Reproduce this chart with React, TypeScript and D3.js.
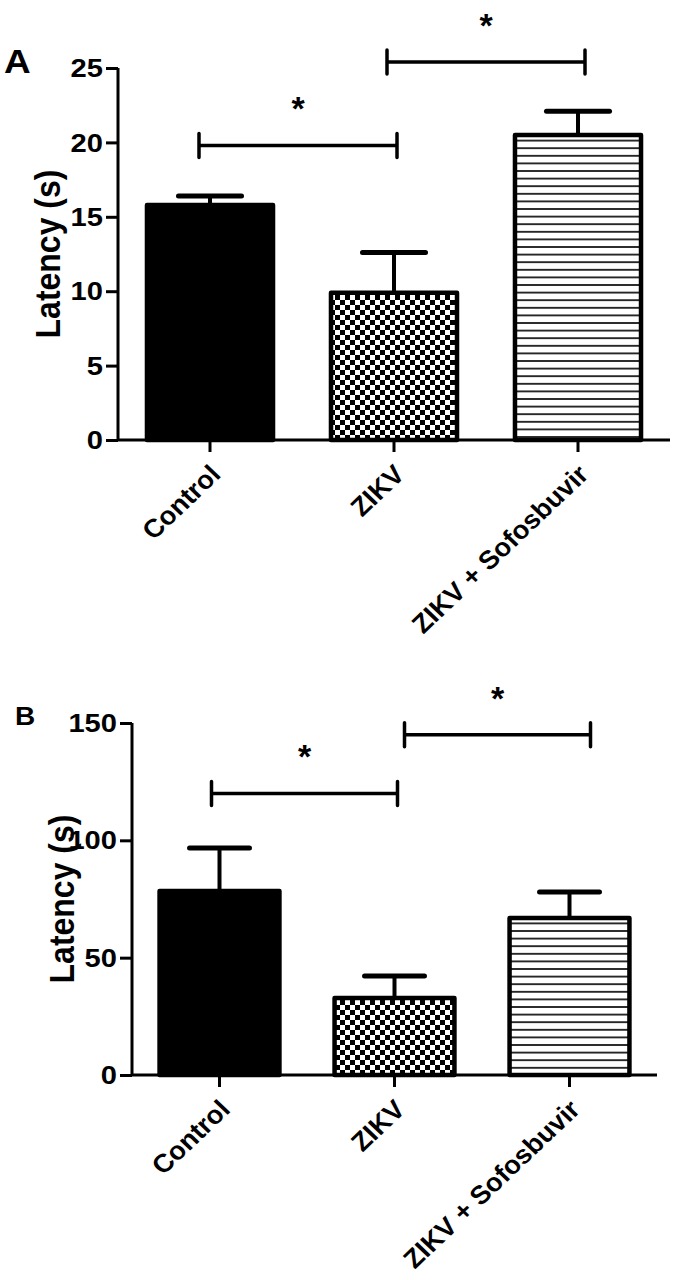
import { useEffect, useRef } from "react";
import * as d3 from "d3";

const categories = ["Control", "ZIKV", "ZIKV + Sofosbuvir"];

// panel A
const latencyA = [15.8, 9.9, 20.5];
const errorA = [0.6, 2.7, 1.6];
const ticksA = [0, 5, 10, 15, 20, 25];
const bracketsA = [
  { from: 0, to: 1, y: 19.8 },
  { from: 1, to: 2, y: 25.4 },
];

// panel B
const latencyB = [78.4, 32.8, 66.9];
const errorB = [18.3, 9.4, 11.1];
const ticksB = [0, 50, 100, 150];
const bracketsB = [
  { from: 0, to: 1, y: 120 },
  { from: 1, to: 2, y: 145 },
];

const fills = ["#000", "url(#checker)", "url(#stripes)"];
const FONT = "'Liberation Sans', Arial, Helvetica, sans-serif";
const SX = 1.12; // the source figure is a bit wider than tall

const App = () => {
  const svgRef = useRef(null);

  useEffect(() => {
    document.body.style.margin = "0";
    const svg = d3.select(svgRef.current);
    svg.selectAll("*").remove();

    svg.append("rect").attr("width", 675).attr("height", 1280).attr("fill", "#fff");

    const defs = svg.append("defs");
    // checkerboard
    const chk = defs
      .append("pattern")
      .attr("id", "checker")
      .attr("patternUnits", "userSpaceOnUse")
      .attr("width", 10)
      .attr("height", 10);
    chk.append("rect").attr("width", 10).attr("height", 10).attr("fill", "#fff");
    chk.append("rect").attr("width", 5).attr("height", 5).attr("fill", "#000");
    chk.append("rect").attr("x", 5).attr("y", 5).attr("width", 5).attr("height", 5).attr("fill", "#000");
    // horizontal lines
    const str = defs
      .append("pattern")
      .attr("id", "stripes")
      .attr("patternUnits", "userSpaceOnUse")
      .attr("width", 10)
      .attr("height", 7.6);
    str.append("rect").attr("width", 10).attr("height", 7.6).attr("fill", "#fff");
    str.append("rect").attr("y", 3).attr("width", 10).attr("height", 1.6).attr("fill", "#000");

    const panels = [
      {
        letter: "A", letterX: 4, letterY: 73, letterSize: 33,
        values: latencyA, errors: errorA, ticks: ticksA, brackets: bracketsA,
        x0: 118, x1: 670, yTop: 68, yBottom: 440, max: 25,
        bracketDx: [[-11, 3], [-7, 7]],
      },
      {
        letter: "B", letterX: 15, letterY: 725, letterSize: 25,
        values: latencyB, errors: errorB, ticks: ticksB, brackets: bracketsB,
        x0: 132, x1: 657, yTop: 723, yBottom: 1075, max: 150,
        bracketDx: [[-8, 3], [10, 21]],
      },
    ];

    panels.forEach((p) => {
      const g = svg.append("g");

      const x = d3
        .scaleBand()
        .domain(categories)
        .range([p.x0, p.x1])
        .paddingInner(0.315)
        .paddingOuter(0.1575);

      const y = d3.scaleLinear().domain([0, p.max]).range([p.yBottom, p.yTop]);

      // panel letter
      g.append("text")
        .attr("transform", `translate(${p.letterX},${p.letterY}) scale(${SX},1)`)
        .text(p.letter)
        .attr("font-family", FONT)
        .attr("font-weight", "bold")
        .attr("font-size", p.letterSize);

      // error bars (upper only) drawn first so bar covers stem
      categories.forEach((c, i) => {
        const cx = x(c) + x.bandwidth() / 2;
        const top = y(p.values[i] + p.errors[i]);
        const capW = x.bandwidth() / 4;
        g.append("line")
          .attr("x1", cx).attr("x2", cx)
          .attr("y1", y(p.values[i])).attr("y2", top)
          .attr("stroke", "#000").attr("stroke-width", 4);
        g.append("line")
          .attr("x1", cx - capW).attr("x2", cx + capW)
          .attr("y1", top).attr("y2", top)
          .attr("stroke", "#000").attr("stroke-width", 5)
          .attr("stroke-linecap", "round");
      });

      // bars
      g.selectAll(".bar")
        .data(p.values)
        .enter()
        .append("rect")
        .attr("class", "bar")
        .attr("x", (d, i) => x(categories[i]))
        .attr("y", (d) => y(d))
        .attr("width", x.bandwidth())
        .attr("height", (d) => y(0) - y(d))
        .attr("fill", (d, i) => fills[i])
        .attr("stroke", "#000")
        .attr("stroke-width", 4.5)
        .attr("stroke-linejoin", "round");

      // y axis
      const yAxis = d3.axisLeft(y).tickValues(p.ticks).tickSize(12).tickFormat(() => "");
      const ya = g.append("g").attr("transform", `translate(${p.x0},0)`).call(yAxis);
      ya.select(".domain").attr("stroke-width", 3).attr("d", `M0,${p.yTop}V${p.yBottom}`);
      ya.selectAll(".tick line").attr("stroke-width", 3);

      // tick labels, stretched like the source
      p.ticks.forEach((t) => {
        g.append("text")
          .attr("transform", `translate(${p.x0 - 15},${y(t)}) scale(${SX},1)`)
          .attr("text-anchor", "end")
          .attr("dy", "0.35em")
          .text(t)
          .attr("font-family", FONT)
          .attr("font-weight", "bold")
          .attr("font-size", 26);
      });

      // x axis
      const xAxis = d3.axisBottom(x).tickSize(12).tickFormat(() => "");
      const xa = g.append("g").attr("transform", `translate(0,${p.yBottom})`).call(xAxis);
      xa.select(".domain").attr("stroke-width", 3).attr("d", `M${p.x0},0H${p.x1}`);
      xa.selectAll(".tick line").attr("stroke-width", 3);

      // rotated category labels
      categories.forEach((c) => {
        const cx = x(c) + x.bandwidth() / 2;
        g.append("text")
          .attr("transform", `translate(${cx + 12},${p.yBottom + 36}) scale(1.05,1) rotate(-45)`)
          .attr("text-anchor", "end")
          .text(c)
          .attr("font-family", FONT)
          .attr("font-weight", "bold")
          .attr("font-size", 26);
      });

      // y title
      g.append("text")
        .attr("transform", `translate(${p.x0 - 58},${(p.yTop + p.yBottom) / 2}) scale(${SX},1) rotate(-90)`)
        .attr("text-anchor", "middle")
        .text("Latency (s)")
        .attr("font-family", FONT)
        .attr("font-weight", "bold")
        .attr("font-size", 32);

      // significance brackets
      p.brackets.forEach((b, k) => {
        const xa0 = x(categories[b.from]) + x.bandwidth() / 2 + p.bracketDx[k][0];
        const xa1 = x(categories[b.to]) + x.bandwidth() / 2 + p.bracketDx[k][1];
        const by = y(b.y);
        const path = d3.path();
        path.moveTo(xa0, by);
        path.lineTo(xa1, by);
        path.moveTo(xa0, by - 12);
        path.lineTo(xa0, by + 12);
        path.moveTo(xa1, by - 12);
        path.lineTo(xa1, by + 12);
        g.append("path")
          .attr("d", path.toString())
          .attr("stroke", "#000")
          .attr("stroke-width", 3.5)
          .attr("stroke-linecap", "round")
          .attr("fill", "none");
        g.append("text")
          .attr("x", (xa0 + xa1) / 2)
          .attr("y", by - 25)
          .attr("text-anchor", "middle")
          .text("*")
          .attr("font-family", FONT)
          .attr("font-weight", "bold")
          .attr("font-size", 34);
      });
    });
  }, []);

  return <svg ref={svgRef} width={675} height={1280} style={{ display: "block" }}></svg>;
};

export default App;
